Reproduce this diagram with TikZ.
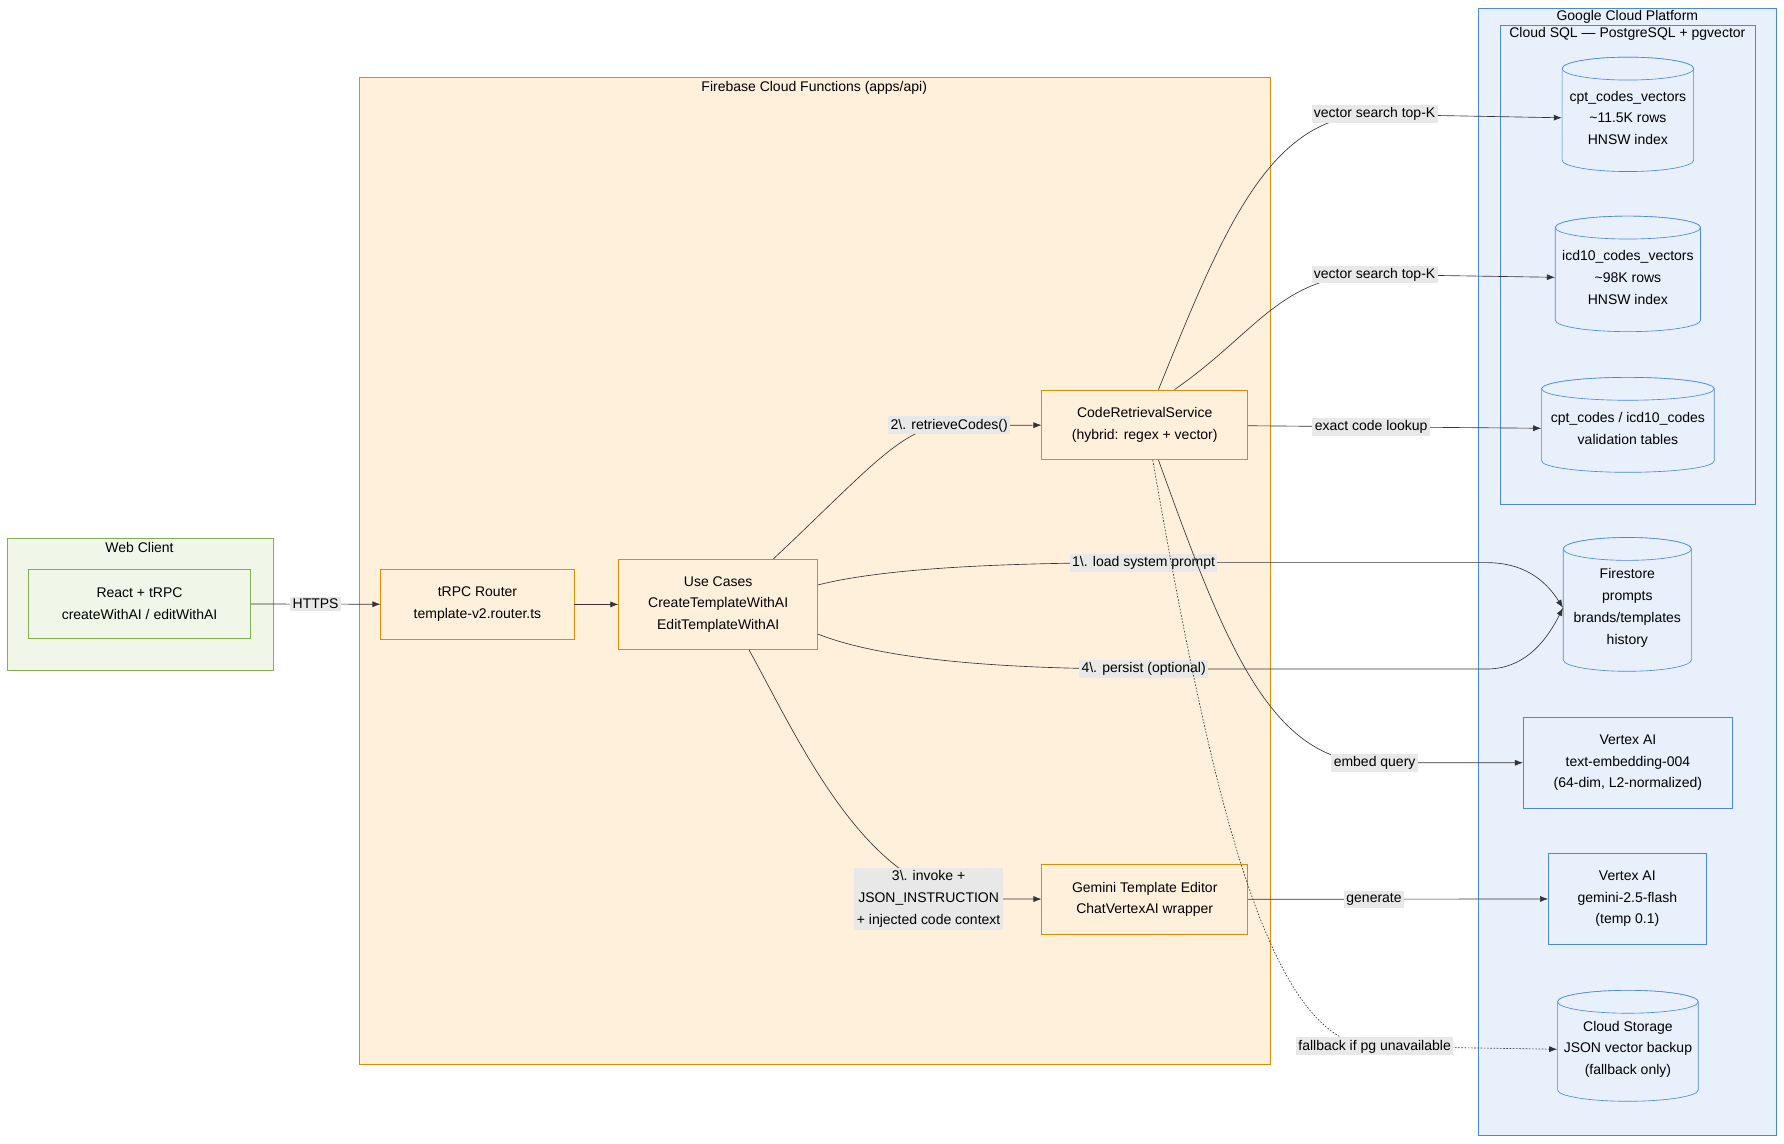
\documentclass[tikz,border=0pt]{standalone}
\usepackage{fontspec}
\setmainfont{Liberation Sans}
\usetikzlibrary{arrows.meta}
\tikzset{>=latex}
\colorlet{fbline}{orange!80!yellow!90!black}
\definecolor{fbfill}{HTML}{FFF0DC}
\definecolor{gcline}{HTML}{4A86E8}
\definecolor{gcfill}{HTML}{E8F0FC}
\definecolor{wcline}{HTML}{80B050}
\definecolor{wcfill}{HTML}{F0F7E8}
\definecolor{lblfill}{HTML}{E8E8E8}
\tikzset{
  every node/.style={font=\fontsize{8.7}{13.5}\selectfont, align=center},
  grp/.style={draw=#1line, fill=#1fill, thin},
  svc/.style={draw=fbline, fill=fbfill, thin, inner sep=0},
  gsvc/.style={draw=gcline, fill=gcfill, thin, inner sep=0},
  lbl/.style={fill=lblfill, inner sep=1.5pt},
  link/.style={-{Latex[length=5pt]}, thin, draw=black!80},
}
% cylinder: name, centre x, top y, bottom y, half width, text
\newcommand{\dbcyl}[6]{%
  \draw[gcline, fill=gcfill] (#2-#5,#3) -- (#2-#5,#4) arc[start angle=180, end angle=0, x radius=#5, y radius=10] -- (#2+#5,#3) arc[start angle=0, end angle=-180, x radius=#5, y radius=10] -- cycle;
  \draw[gcline, fill=gcfill] (#2,#3) ellipse[x radius=#5, y radius=10];
  \node[minimum width=2*#5*0.025cm, minimum height=(#4-#3)*0.025cm, inner sep=0] (#1) at (#2,#3/2+#4/2+3) {#6};%
}
\begin{document}
\begin{tikzpicture}[x=0.025cm, y=-0.025cm]
\useasboundingbox (0,0) rectangle (1560,1000);

% groups
\draw[grp=gc] (1293,7) rectangle (1553,993);
\node at (1423,15) {Google Cloud Platform};
\draw[grp=gc] (1312,22) rectangle (1535,441);
\node at (1423,30) {Cloud SQL — PostgreSQL + pgvector};
\draw[grp=fb] (314,68) rectangle (1111,931);
\node at (712,77) {Firebase Cloud Functions (apps/api)};
\draw[grp=wc] (6,471) rectangle (239,586);
\node at (122,479) {Web Client};

% nodes
\node[draw=wcline, fill=wcfill, minimum width=194*0.025cm, minimum height=61*0.025cm] (client) at (122,528) {React + tRPC\\createWithAI / editWithAI};
\node[svc, minimum width=169*0.025cm, minimum height=61*0.025cm] (router) at (417.5,528.5) {tRPC Router\\template-v2.router.ts};
\node[svc, minimum width=174*0.025cm, minimum height=79*0.025cm] (usecases) at (628,528.5) {Use Cases\\CreateTemplateWithAI\\EditTemplateWithAI};
\node[svc, minimum width=180*0.025cm, minimum height=61*0.025cm] (retrieval) at (1001,371.5) {CodeRetrievalService\\(hybrid: regex + vector)};
\node[svc, minimum width=180*0.025cm, minimum height=61*0.025cm] (editor) at (1001,786.5) {Gemini Template Editor\\ChatVertexAI wrapper};
\node[gsvc, minimum width=183*0.025cm, minimum height=80*0.025cm] (embed) at (1423.5,667) {Vertex AI\\text-embedding-004\\(64-dim, L2-normalized)};
\node[gsvc, minimum width=138*0.025cm, minimum height=80*0.025cm] (gemini) at (1423,786) {Vertex AI\\gemini-2.5-flash\\(temp 0.1)};

\dbcyl{cptvec}{1423.5}{60}{140}{57.5}{cpt\_codes\_vectors\\\textasciitilde11.5K rows\\HNSW index}
\dbcyl{icdvec}{1423.5}{199}{280}{63.5}{icd10\_codes\_vectors\\\textasciitilde98K rows\\HNSW index}
\dbcyl{codes}{1423.5}{340}{403}{75.5}{cpt\_codes / icd10\_codes\\validation tables}
\dbcyl{firestore}{1423}{480}{577}{56}{Firestore\\prompts\\brands/templates\\history}
\dbcyl{storage}{1423.5}{876}{953}{61.5}{Cloud Storage\\JSON vector backup\\(fallback only)}

% connectors
\draw[link] (client) -- node[lbl] {HTTPS} (router);
\draw[link] (router) -- (usecases);
\draw[link] (usecases.north east) ++(-39,0) .. controls (760,410) and (790,372) .. (830,372) node[lbl] {2\textbackslash. retrieveCodes()} -- (retrieval);
\draw[link] (usecases.east) ++(0,-17) .. controls (780,495) and (900,492) .. (1000,492) node[lbl] {1\textbackslash. load system prompt} -- (1300,492) .. controls (1330,492) and (1350,505) .. (firestore.west);
\draw[link] (usecases.east) ++(0,26) .. controls (780,580) and (900,585) .. (1000,585) node[lbl] {4\textbackslash. persist (optional)} -- (1300,585) .. controls (1330,585) and (1350,565) .. (firestore.west);
\draw[link] (usecases.south) ++(27,0) .. controls (700,650) and (760,786) .. (860,786) -- (editor);
\node[lbl] at (812,786) {3\textbackslash. invoke +\\JSON\_INSTRUCTION\\+ injected code context};
\draw[link] (retrieval.north) ++(12,0) .. controls (1070,200) and (1110,100) .. (1202,100) node[lbl] {vector search top-K} -- (cptvec.west);
\draw[link] (retrieval.north) ++(26,0) .. controls (1100,290) and (1120,240) .. (1202,240) node[lbl] {vector search top-K} -- (icdvec.west);
\draw[link] (retrieval) -- node[lbl, pos=0.42] {exact code lookup} (codes.west);
\draw[link] (retrieval.south) ++(12,0) .. controls (1070,560) and (1110,667) .. (1202,667) node[lbl] {embed query} -- (embed);
\draw[link, dash pattern=on 1pt off 1pt] (retrieval.south) ++(7,0) .. controls (1060,700) and (1110,915) .. (1202,915) node[lbl] {fallback if pg unavailable} -- (storage.west);
\draw[link] (editor) -- node[lbl, pos=0.42] {generate} (gemini);
\end{tikzpicture}
\end{document}
